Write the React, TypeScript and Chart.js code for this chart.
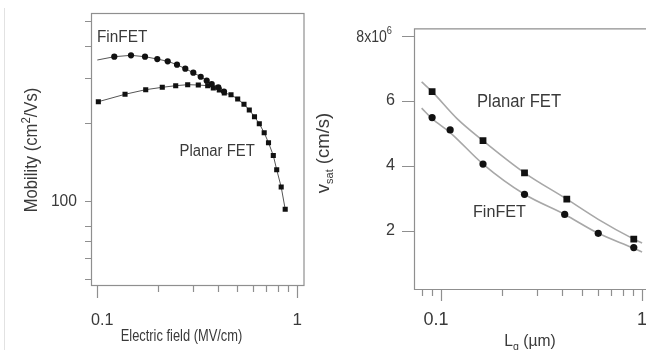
import React, { useEffect, useRef } from 'react';
import { Chart, registerables } from 'chart.js';

Chart.register(...registerables);

// ---------- Left panel: mobility vs electric field ----------
const FIN_FIELD = [0.1, 0.1216, 0.1474, 0.1732, 0.1995, 0.2249, 0.2503, 0.2754, 0.302, 0.3289, 0.3524, 0.3733, 0.4027, 0.43];
const FIN_MOBILITY = [352, 362.5, 367, 362.5, 355, 348, 337.6, 325.7, 314.3, 303.2, 292.6, 284.1, 275.9, 265.7];
const PLANAR_FIELD = [0.1012, 0.1376, 0.1746, 0.2113, 0.2466, 0.2831, 0.3199, 0.3565, 0.3802, 0.4074, 0.4315, 0.4662, 0.5035, 0.5413, 0.5754, 0.6109, 0.6457, 0.6831, 0.7178, 0.7586, 0.7889, 0.8308, 0.87];
const PLANAR_MOBILITY = [242.6, 259.2, 270.1, 275.9, 279.9, 282.4, 281.6, 279.9, 274.2, 269.3, 262.2, 258.2, 248.5, 237.1, 225.3, 212.2, 199.3, 183.9, 168.3, 150.1, 132.2, 113.3, 92.9];
const FIELD_TICKS = [0.1, 0.2, 0.3, 0.4, 0.5, 0.6, 0.7, 0.8, 0.9, 1];
const FIELD_LABELS = ['0.1', '1'];
const MOBILITY_TICKS = [50, 60, 70, 80, 100, 200, 300, 400, 500];
const MOBILITY_LABELS = ['100'];

// ---------- Right panel: vsat vs gate length ----------
const LG_PLANAR = [0.0902, 0.1616, 0.26, 0.422, 0.909];
const VSAT_PLANAR = [6.28, 4.77, 3.78, 2.97, 1.74];
const LG_FIN = [0.0902, 0.1109, 0.1616, 0.26, 0.412, 0.605, 0.909];
const VSAT_FIN = [5.48, 5.1, 4.05, 3.12, 2.5, 1.92, 1.48];
const FIT_LG_PLANAR = [0.08, 0.0902, 0.12, 0.1616, 0.26, 0.422, 0.605, 0.909, 1.0];
const FIT_VSAT_PLANAR = [6.58, 6.28, 5.45, 4.77, 3.78, 2.97, 2.35, 1.74, 1.62];
const FIT_LG_FIN = [0.08, 0.0902, 0.1109, 0.1616, 0.26, 0.412, 0.605, 0.909, 1.0];
const FIT_VSAT_FIN = [5.77, 5.45, 5.02, 4.05, 3.12, 2.5, 1.92, 1.46, 1.34];
const LG_TICKS = [0.08, 0.09, 0.1, 0.2, 0.3, 0.4, 0.5, 0.6, 0.7, 0.8, 0.9, 1];
const LG_LABELS = ['0.1', '1'];
const VSAT_TICKS = [2, 4, 6, 8];
const VSAT_LABELS = ['2', '4', '6', '8x10'];

const FONT = '"Liberation Sans", Arial, Helvetica, sans-serif';
const TEXT = '#3a3a3a';
const AXIS = '#8f8f8f';

type Part = { t: string; size: number; dy?: number };

function richWidth(ctx: CanvasRenderingContext2D, parts: Part[]) {
  let w = 0;
  for (const p of parts) {
    ctx.font = `${p.size}px ${FONT}`;
    w += ctx.measureText(p.t).width;
  }
  return w;
}

function drawRich(
  ctx: CanvasRenderingContext2D,
  parts: Part[],
  x: number,
  y: number,
  opts: { align?: 'left' | 'center' | 'right'; rot?: number; sx?: number; baseline?: CanvasTextBaseline } = {}
) {
  const { align = 'left', rot = 0, sx = 1, baseline = 'alphabetic' } = opts;
  ctx.save();
  ctx.translate(x, y);
  if (rot) ctx.rotate(rot);
  ctx.scale(sx, 1);
  const w = richWidth(ctx, parts);
  let cx = align === 'left' ? 0 : align === 'center' ? -w / 2 : -w;
  ctx.fillStyle = TEXT;
  ctx.textAlign = 'left';
  ctx.textBaseline = baseline;
  for (const p of parts) {
    ctx.font = `${p.size}px ${FONT}`;
    ctx.fillText(p.t, cx, p.dy || 0);
    cx += ctx.measureText(p.t).width;
  }
  ctx.restore();
}

const leftFrame = {
  id: 'leftFrame',
  afterDraw(chart: any) {
    const { ctx, chartArea: a, scales } = chart;
    const xs = scales.x;
    const ys = scales.y;
    ctx.save();
    ctx.strokeStyle = AXIS;
    ctx.lineWidth = 1.2;
    ctx.strokeRect(a.left + 0.5, a.top + 0.5, a.right - a.left, a.bottom - a.top);
    ctx.beginPath();
    FIELD_TICKS.forEach((v) => {
      const px = Math.round(xs.getPixelForValue(v)) + 0.5;
      const major = v === 0.1 || v === 1;
      ctx.moveTo(px, a.bottom);
      ctx.lineTo(px, a.bottom + (major ? 13 : 7));
    });
    MOBILITY_TICKS.forEach((v) => {
      const py = Math.round(ys.getPixelForValue(v)) + 0.5;
      ctx.moveTo(a.left, py);
      ctx.lineTo(a.left - 6, py);
    });
    ctx.stroke();
    ctx.restore();

    drawRich(ctx, [{ t: FIELD_LABELS[0], size: 17 }], xs.getPixelForValue(0.1) + 5, 324.5, { align: 'center', sx: 0.95 });
    drawRich(ctx, [{ t: FIELD_LABELS[1], size: 17 }], xs.getPixelForValue(1), 324.5, { align: 'center' });
    drawRich(ctx, [{ t: MOBILITY_LABELS[0], size: 17 }], a.left - 14, ys.getPixelForValue(100), { align: 'right', baseline: 'middle', sx: 0.92 });
    drawRich(ctx, [{ t: 'Electric field (MV/cm)', size: 16.5 }], 181.5, 341, { align: 'center', sx: 0.78 });
    drawRich(
      ctx,
      [
        { t: 'Mobility (cm', size: 17.5 },
        { t: '2', size: 12, dy: -7.5 },
        { t: '/Vs)', size: 17.5 },
      ],
      37,
      150,
      { align: 'center', rot: -Math.PI / 2, sx: 0.95 }
    );
    drawRich(ctx, [{ t: 'FinFET', size: 16.5 }], 97, 42, { sx: 0.93 });
    drawRich(ctx, [{ t: 'Planar FET', size: 16 }], 179.5, 155.5, { sx: 0.93 });
  },
};

const rightFrame = {
  id: 'rightFrame',
  afterDraw(chart: any) {
    const { ctx, chartArea: a, scales } = chart;
    const xs = scales.x;
    const ys = scales.y;
    ctx.save();
    ctx.strokeStyle = AXIS;
    ctx.lineWidth = 1.2;
    ctx.beginPath();
    ctx.moveTo(a.right, a.top + 0.5);
    ctx.lineTo(a.left + 0.5, a.top + 0.5);
    ctx.lineTo(a.left + 0.5, a.bottom + 0.5);
    ctx.lineTo(a.right, a.bottom + 0.5);
    LG_TICKS.forEach((v) => {
      const px = Math.round(xs.getPixelForValue(v)) + 0.5;
      const major = v === 0.1 || v === 1;
      ctx.moveTo(px, a.bottom);
      ctx.lineTo(px, a.bottom + (major ? 12 : 7));
    });
    VSAT_TICKS.forEach((v) => {
      const py = Math.round(ys.getPixelForValue(v)) + 0.5;
      ctx.moveTo(a.left, py);
      ctx.lineTo(a.left - 12, py);
    });
    ctx.stroke();
    ctx.restore();

    VSAT_TICKS.forEach((v, i) => {
      const py = ys.getPixelForValue(v);
      if (v === 8) {
        drawRich(ctx, [{ t: VSAT_LABELS[i], size: 16 }, { t: '6', size: 10.5, dy: -7 }], a.left - 22, py + 2, { align: 'right', baseline: 'middle', sx: 0.88 });
      } else {
        drawRich(ctx, [{ t: VSAT_LABELS[i], size: 17 }], a.left - 19, py, { align: 'right', baseline: 'middle', sx: 0.95 });
      }
    });
    drawRich(ctx, [{ t: LG_LABELS[0], size: 18 }], xs.getPixelForValue(0.1) - 5, 325, { align: 'center' });
    drawRich(ctx, [{ t: LG_LABELS[1], size: 18 }], xs.getPixelForValue(1), 325, { align: 'center' });
    drawRich(
      ctx,
      [
        { t: 'L', size: 17 },
        { t: 'g', size: 11.5, dy: 4 },
        { t: ' (\u00b5m)', size: 17 },
      ],
      530,
      346,
      { align: 'center', sx: 0.92 }
    );
    drawRich(
      ctx,
      [
        { t: 'v', size: 18.5 },
        { t: 'sat', size: 11, dy: 4.5 },
        { t: ' (cm/s)', size: 18.5 },
      ],
      328.5,
      153,
      { align: 'center', rot: -Math.PI / 2, sx: 1 }
    );
    drawRich(ctx, [{ t: 'Planar FET', size: 17.5 }], 477, 106.5, { sx: 0.95 });
    drawRich(ctx, [{ t: 'FinFET', size: 17 }], 473, 216.5, { sx: 0.95 });
  },
};

function pts(xs: number[], ys: number[]) {
  return xs.map((x, i) => ({ x, y: ys[i] }));
}

export default function App() {
  const leftRef = useRef<HTMLCanvasElement>(null);
  const rightRef = useRef<HTMLCanvasElement>(null);

  useEffect(() => {
    const left = new Chart(leftRef.current as HTMLCanvasElement, {
      type: 'scatter',
      data: {
        datasets: [
          {
            data: pts(FIN_FIELD, FIN_MOBILITY),
            showLine: true,
            borderColor: '#555',
            borderWidth: 1,
            pointStyle: 'circle',
            pointRadius: (c: any) => (c.dataIndex === 0 ? 0 : 3.1),
            pointBackgroundColor: '#111',
            pointBorderColor: '#111',
            pointBorderWidth: 0,
          } as any,
          {
            data: pts(PLANAR_FIELD, PLANAR_MOBILITY),
            showLine: true,
            borderColor: '#555',
            borderWidth: 1,
            pointStyle: 'rect',
            pointRadius: 3.6,
            pointBackgroundColor: '#111',
            pointBorderColor: '#111',
            pointBorderWidth: 0,
          } as any,
        ],
      },
      options: {
        responsive: false,
        animation: false,
        events: [],
        layout: { padding: { left: 91, top: 13, right: 646 - 303.5, bottom: 350 - 285 } },
        plugins: { legend: { display: false }, tooltip: { enabled: false } },
        scales: {
          x: { type: 'logarithmic', min: 0.093, max: 1.074, display: false },
          y: { type: 'logarithmic', min: 47.25, max: 535.5, display: false },
        },
      },
      plugins: [leftFrame],
    });

    const right = new Chart(rightRef.current as HTMLCanvasElement, {
      type: 'scatter',
      data: {
        datasets: [
          {
            data: pts(LG_PLANAR, VSAT_PLANAR),
            showLine: false,
            pointStyle: 'rect',
            pointRadius: 4.8,
            pointBackgroundColor: '#111',
            pointBorderColor: '#111',
            pointBorderWidth: 0,
          },
          {
            data: pts(LG_FIN, VSAT_FIN),
            showLine: false,
            pointStyle: 'circle',
            pointRadius: 3.6,
            pointBackgroundColor: '#111',
            pointBorderColor: '#111',
            pointBorderWidth: 0,
          },
          {
            data: pts(FIT_LG_PLANAR, FIT_VSAT_PLANAR),
            showLine: true,
            borderColor: '#a8a8a8',
            borderWidth: 1.6,
            cubicInterpolationMode: 'monotone',
            pointRadius: 0,
          },
          {
            data: pts(FIT_LG_FIN, FIT_VSAT_FIN),
            showLine: true,
            borderColor: '#a8a8a8',
            borderWidth: 1.6,
            cubicInterpolationMode: 'monotone',
            pointRadius: 0,
          },
        ],
      },
      options: {
        responsive: false,
        animation: false,
        events: [],
        layout: { padding: { left: 414, top: 28.3, right: 700 - 648, bottom: 350 - 289 } },
        plugins: { legend: { display: false }, tooltip: { enabled: false } },
        scales: {
          x: { type: 'logarithmic', min: 0.0733, max: 1.07, display: false },
          y: { type: 'linear', min: 0.206, max: 8.228, display: false },
        },
      },
      plugins: [rightFrame],
    });

    return () => {
      left.destroy();
      right.destroy();
    };
  }, []);

  return (
    <div
      style={{
        position: 'fixed',
        left: 0,
        top: 0,
        width: 646,
        height: 350,
        overflow: 'hidden',
        background: '#fff',
      }}
    >
      <div style={{ position: 'absolute', left: 4, top: 8, width: 1, height: 342, background: '#e2e2e2' }} />
      <canvas ref={leftRef} width={646} height={350} style={{ position: 'absolute', left: 0, top: 0 }} />
      <canvas ref={rightRef} width={700} height={350} style={{ position: 'absolute', left: 0, top: 0 }} />
    </div>
  );
}
